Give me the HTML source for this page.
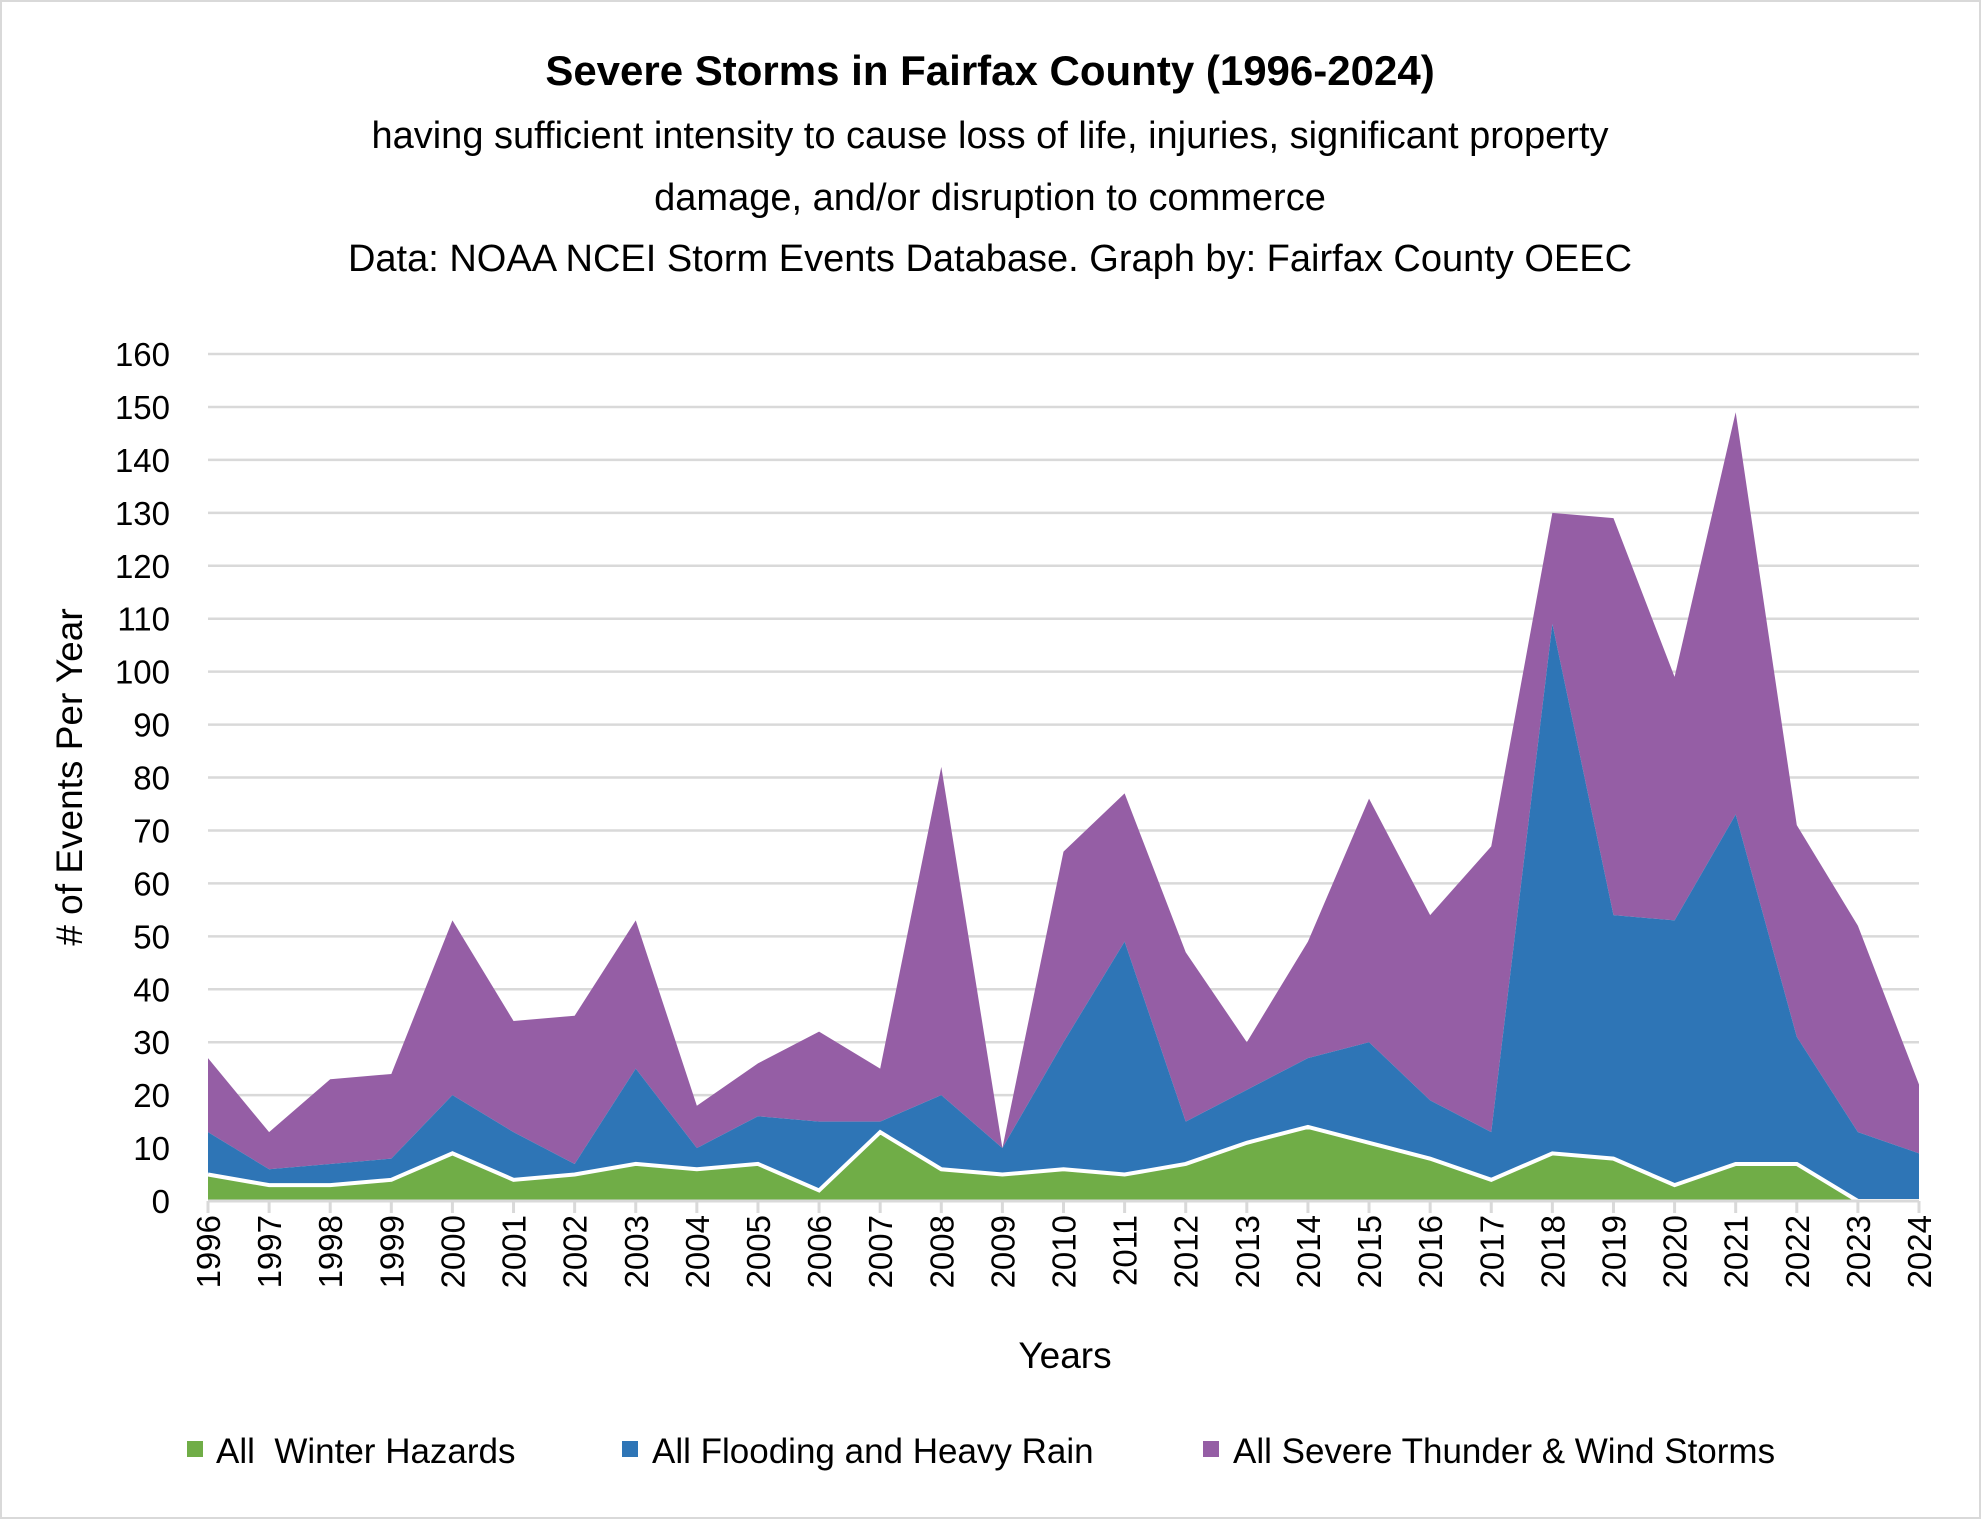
<!DOCTYPE html>
<html><head><meta charset="utf-8"><style>
body{margin:0;background:#fff}
svg{display:block;font-family:"Liberation Sans",Carlito,sans-serif}
</style></head><body>
<svg id="chart" width="1982" height="1520" viewBox="0 0 1982 1520" xmlns="http://www.w3.org/2000/svg">
<rect x="1" y="1" width="1979" height="1517" fill="#fff" stroke="#d9d9d9" stroke-width="2"/>
<text x="990" y="85" text-anchor="middle" font-size="42" font-weight="bold">Severe Storms in Fairfax County (1996-2024)</text>
<text x="990" y="148" text-anchor="middle" font-size="38">having sufficient intensity to cause loss of life, injuries, significant property</text>
<text x="990" y="210" text-anchor="middle" font-size="38">damage, and/or disruption to commerce</text>
<text x="990" y="271" text-anchor="middle" font-size="38">Data: NOAA NCEI Storm Events Database. Graph by: Fairfax County OEEC</text>
<g id="grid"></g><g id="areas"></g><g id="axes"></g>
<text x="1065" y="1368" text-anchor="middle" font-size="37">Years</text>
<text transform="translate(82,777) rotate(-90)" text-anchor="middle" font-size="37"># of Events Per Year</text>
<g>
<rect x="187" y="1441" width="16" height="16" fill="#70AD47"/>
<text x="216" y="1463" font-size="35" xml:space="preserve">All  Winter Hazards</text>
<rect x="622" y="1441" width="16" height="16" fill="#2E75B6"/>
<text x="652" y="1463" font-size="35">All Flooding and Heavy Rain</text>
<rect x="1203" y="1441" width="16" height="16" fill="#955EA5"/>
<text x="1233" y="1463" font-size="35">All Severe Thunder &amp; Wind Storms</text>
</g>
</svg>
<script>
const years=[1996,1997,1998,1999,2000,2001,2002,2003,2004,2005,2006,2007,2008,2009,2010,2011,2012,2013,2014,2015,2016,2017,2018,2019,2020,2021,2022,2023,2024];
const winter=[5,3,3,4,9,4,5,7,6,7,2,13,6,5,6,5,7,11,14,11,8,4,9,8,3,7,7,0,0];
const flooding=[8,3,4,4,11,9,2,18,4,9,13,2,14,5,24,44,8,10,13,19,11,9,100,46,50,66,24,13,9];
const storms=[14,7,16,16,33,21,28,28,8,10,17,10,62,0,36,28,32,9,22,46,35,54,21,75,46,76,40,39,13];
const yTicks=[0,10,20,30,40,50,60,70,80,90,100,110,120,130,140,150,160];
const NS="http://www.w3.org/2000/svg";
const X0=208,X1=1919,Y0=1201,Y1=354,YMAX=160;
const xs=i=>X0+(X1-X0)*i/(years.length-1);
const ys=v=>Y0-(Y0-Y1)*v/YMAX;
function mk(tag,attrs,parent){const e=document.createElementNS(NS,tag);for(const k in attrs)e.setAttribute(k,attrs[k]);parent.appendChild(e);return e;}
const grid=document.getElementById('grid'),areas=document.getElementById('areas'),axes=document.getElementById('axes');
yTicks.forEach(t=>{
  if(t>0){const l=mk('line',{x1:X0,x2:X1,y1:ys(t),y2:ys(t),stroke:'#d9d9d9','stroke-width':2.5},grid);
  
  }
  const tx=mk('text',{x:170,y:ys(t)+12,'text-anchor':'end','font-size':33},axes);
  tx.textContent=t;
  
  
});
const c1=winter.slice(),c2=winter.map((v,i)=>v+flooding[i]),c3=c2.map((v,i)=>v+storms[i]);
const zero=winter.map(()=>0);
function band(lo,hi){let d='M'+xs(0)+','+ys(hi[0]);for(let i=1;i<hi.length;i++)d+=' L'+xs(i)+','+ys(hi[i]);for(let i=lo.length-1;i>=0;i--)d+=' L'+xs(i)+','+ys(lo[i]);return d+'Z';}
const p3=mk('path',{d:band(c2,c3),fill:'#955EA5'},areas);


const p2=mk('path',{d:band(c1,c2),fill:'#2E75B6'},areas);


const p1=mk('path',{d:band(zero,c1),fill:'#70AD47'},areas);


const wl=mk('polyline',{points:c1.map((v,i)=>xs(i)+','+ys(v)).join(' '),fill:'none',stroke:'#fff','stroke-width':4},areas);


const ax=mk('line',{x1:X0,x2:X1,y1:Y0,y2:Y0,stroke:'#d9d9d9','stroke-width':3},axes);


years.forEach((y,i)=>{
  const tk=mk('line',{x1:xs(i),x2:xs(i),y1:Y0,y2:Y0+12,stroke:'#d9d9d9','stroke-width':3},axes);
  
  
  const t=mk('text',{transform:'translate('+(xs(i)+12)+',1215) rotate(-90)','text-anchor':'end','font-size':33},axes);
  t.textContent=y;
  
  
});
</script>
</body></html>
